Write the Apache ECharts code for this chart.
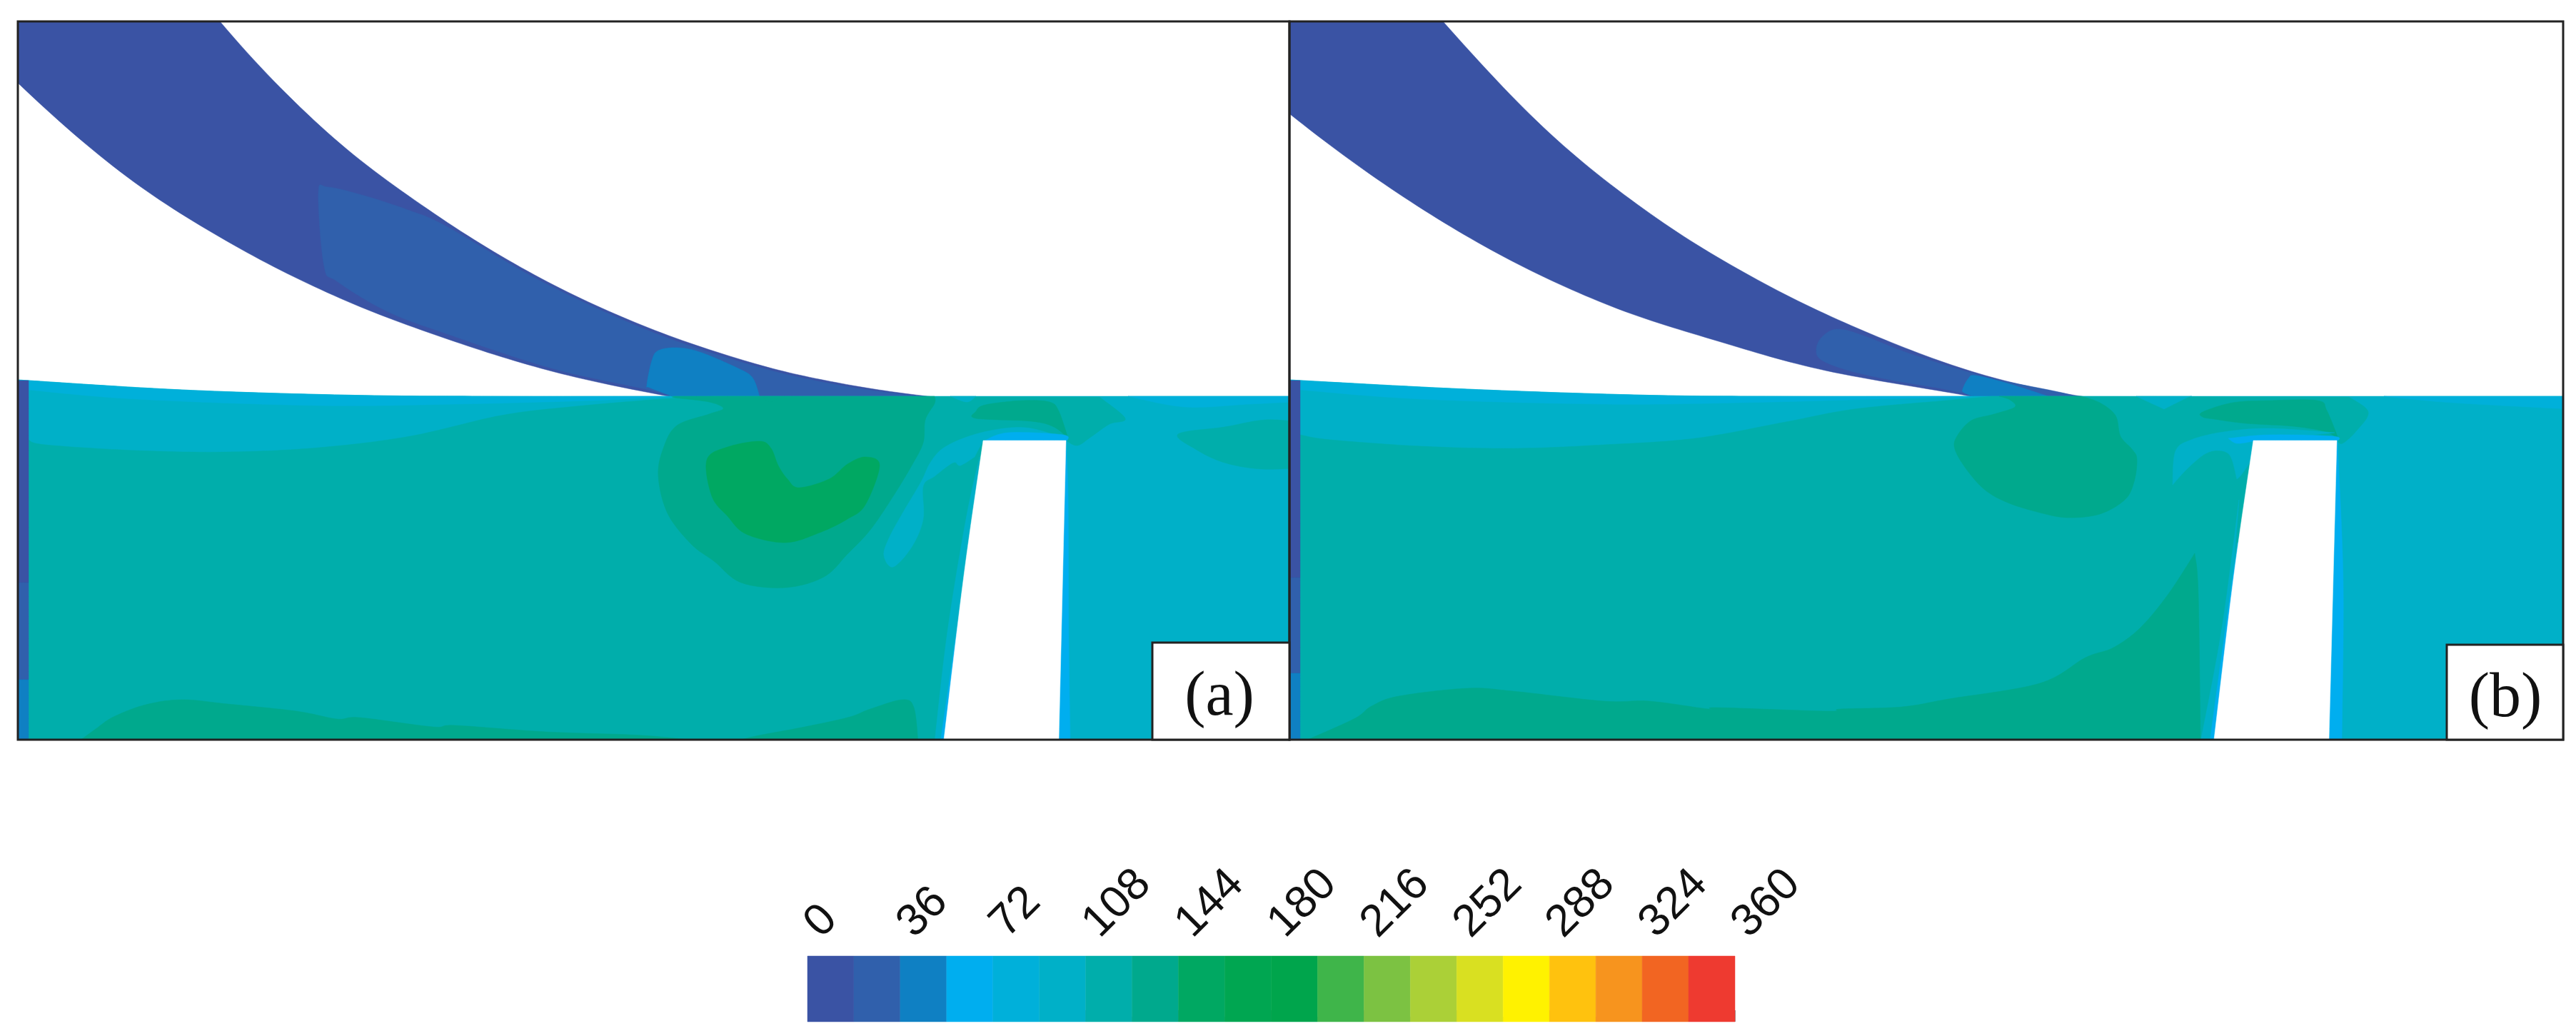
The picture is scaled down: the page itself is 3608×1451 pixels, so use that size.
<!DOCTYPE html>
<html>
<head>
<meta charset="utf-8">
<style>
    html,body{margin:0;padding:0;background:#fff;}
    #chart{width:3608px;height:1451px;}
</style>
</head>
<body>
<div id="chart"></div>
<script src="https://cdn.jsdelivr.net/npm/echarts@6/dist/echarts.min.js"></script>
<script>
// colour bar: one colour per 18 wide band
const bandLevels = [0,18,36,54,72,90,108,126,144,162,180,198,216,234,252,270,288,306,324,342];
const bandColors = ['#3A53A4','#3060AC','#0F80C3','#00AEEF','#00B0DA','#00B0C8','#00AEAB','#00A98D','#00A862','#00A651',
    '#00A54C','#3FB54A','#7CC242','#ABD037','#D9E021','#FFF200','#FFC20E','#F7941E','#F26522','#EE3A30'];

// contour outlines, [x, y], third element 1 = sharp corner
const bladeA = [[158,-170,1],[308,30],[458,185],[608,299],[758,390],[908,459],[1058,509.5],[1178,537],[1299,555],[1420,565,1],
    [1040,570,1],[931,554],[777,521],[627,475],[477,418],[327,343],[177,247],[27,118],[-123,-40,1]];
const bladeA18 = [[446,270],[459,262],[510,274],[574,295],[625,317],[758,394],[908,463],[1058,513],[1178,540],[1285,555,1],[1285,570,1],
    [931,570,1],[931,552],[777,517],[627,468],[542,436],[472,394],[454,373]];
const bladeA36 = [[906,539],[913,505],[922,491],[948,487],[980,493],[1032,515],[1054,529],[1064,556,1],[945,556,1],[910,543]];
const waterA = [[25,532,1],[255,546],[497,553.5],[701,555],[930,555],[1806,555,1],[1806,1036,1],[25,1036,1]];
const topBandA = [[25,532,1],[255,546],[497,553.5],[701,555],[940,555,1],[925,556],[829,561],[638,566],[446,568],[191,559],[40,546],[25,544,1]];
const mainA = [[40,616,1],[64,623],[191,631],[319,633],[446,627],[574,611],[701,582],[797,570],[925,559],[1000,555,1],[1540,556,1],[1576,586],[1554,594],[1528,612],[1509,624],[1493,617,1],[1320,1036,1],[40,1036,1]];
const blobA = [[945,555,1],[945,557],[993,563],[1013,572],[993,580],[948,596],[929,628],[922,667],[935,719],[968,762],[1000,786],[1038,816],[1100,823],[1154,808],[1187,776],[1219,742],[1251,695],[1277,652],[1293,620],[1296,588],[1309,565],[1309,555,1]];
const coreA = [[990,644],[1019,626],[1064,618],[1080,628],[1090,652],[1103,671],[1119,683],[1161,671],[1187,650],[1212,640],[1232,652],[1212,707],[1187,727],[1148,746],[1100,760],[1045,748],[1019,723],[997,695]];
const capA = [[1367,576],[1380,567],[1431,561],[1470,563],[1483,576],[1496,614,1],[1476,598],[1444,590],[1367,586]];
const archA = [[1493,614,1],[1444,600],[1406,600],[1360,610],[1322,627],[1303,648],[1290,675],[1264,719],[1245,754],[1238,778],[1251,794],[1277,766],[1293,727],[1293,681],[1309,667],[1335,648],[1345,652],[1365,640,1],[1377,617,1]];
const archTopA = [[1377,618,1],[1412,606],[1489,609],[1494,618,1]];
const notchA = [[1331,555,1],[1354,563],[1367,555,1]];
const dotA = [[1067,556,1],[1078,563],[1090,558,1]];
const patchA = [[1650,608],[1715,598],[1773,588],[1830,592,1],[1830,655,1],[1767,657],[1715,648],[1676,630]];
const surfaceA = [[1580,555,1],[1660,570],[1750,566],[1830,562,1],[1830,555,1]];
const floorA = [[108,1040,1],[134,1021],[159,1004],[204,987],[255,980],[319,986],[415,996],[472,1007],[504,1005],[606,1018],[638,1016],[765,1025],[900,1030],[1000,1040,1]];
const floorA2 = [[1025,1040,1],[1058,1031],[1122,1019],[1187,1005],[1219,993],[1264,980],[1280,991],[1286,1040,1]];
const wallA = [[1372,640,1],[1353,727],[1327,885],[1309,1040,1],[1330,1040,1]];
const wallA2 = [[1370,690,1],[1345,850],[1317,1040,1],[1330,1040,1]];
const pierA = [[1377,617,1],[1493,617,1],[1483,1036,1],[1322,1036,1],[1350,806]];
const pierSideA = [[1493,617,1],[1483,1040,1],[1499,1040,1],[1497,900],[1496,700]];
const edgeTopA = [[25,533,1],[40,533,1],[40,816,1],[25,816,1]];
const edgeMidA = [[25,816,1],[40,816,1],[40,952,1],[25,952,1]];
const edgeLowA = [[25,952,1],[40,952,1],[40,1036,1],[25,1036,1]];

const bladeB = [[1871,-150,1],[2021,30],[2171,187],[2321,306],[2471,397],[2621,468],[2771,523],[2915,555],[3040,565,1],
    [2830,570,1],[2754,554],[2557,519],[2407,478],[2257,429],[2107,360],[1957,270],[1807,160],[1657,30,1]];
const bladeB18 = [[2544,490],[2551,473],[2572,461],[2607,469],[2677,496],[2782,528],[2900,553],[2930,570,1],[2754,570,1],[2754,552],[2642,531],[2586,518],[2551,504]];
const bladeB36 = [[2749,545],[2757,530],[2767,526],[2812,537],[2872,556,1],[2767,556,1],[2751,550]];
const waterB = [[1806,532,1],[2055,545],[2310,553.5],[2501,555],[2800,555],[3600,555,1],[3600,1036,1],[1806,1036,1]];
const topBandB = [[1806,532,1],[2055,545],[2310,553.5],[2501,555],[2760,555,1],[2750,556],[2629,559],[2438,564],[2246,566],[1991,559],[1821,546],[1806,544,1]];
const mainB = [[1821,609,1],[1864,616],[1991,625],[2119,628],[2246,623],[2374,614],[2501,591],[2597,573],[2725,561],[2790,555,1],[3290,556,1],[3317,577],[3300,604],[3281,621],[3273,617,1],[3100,1036,1],[1821,1036,1]];
const blobB = [[2800,555,1],[2815,560],[2822,570],[2793,580],[2761,589],[2741,611],[2738,629],[2754,657],[2780,686],[2812,704],[2857,718],[2896,725],[2941,720],[2976,700],[2989,675],[2993,643],[2986,629],[2970,611],[2963,582],[2941,564],[2915,555,1]];
const capB = [[3085,584],[3085,577],[3127,564],[3178,561],[3246,561],[3259,575],[3275,614,1],[3255,604],[3211,597],[3146,593],[3101,587]];
const archB = [[3270,606,1],[3178,600],[3114,605],[3069,616],[3047,632],[3043,679,1],[3063,657],[3088,636],[3108,631],[3124,639],[3133,671,1],[3140,664],[3153,643],[3158,617,1]];
const archTopB = [[3121,614,1],[3178,609],[3268,611],[3274,618,1],[3156,618,1],[3133,621]];
const notchB = [[2992,555,1],[3031,573,1],[3063,557],[3070,555,1]];
const surfaceB = [[3339,555,1],[3435,564],[3600,573,1],[3600,555,1]];
const floorB = [[1822,1040,1],[1896,1007],[1921,989],[1959,975],[2055,964],[2119,968],[2246,982],[2310,982],[2393,993],[2406,991],[2559,996],[2578,993],[2664,990],[2729,979],[2857,957],[2921,921],[2960,907],[2998,879],[3037,832],[3074,775,1],[3079,832],[3082,1040,1]];
const wallB = [[3136,700,1],[3112,880],[3082,1040,1],[3110,1040,1]];
const wallB2 = [[3134,760,1],[3110,930],[3095,1040,1],[3110,1040,1]];
const pierB = [[3156,617,1],[3273,617,1],[3262,1036,1],[3101,1036,1],[3129,804]];
const pierSideB = [[3273,618,1],[3262,1040,1],[3280,1040,1],[3282,821],[3275,643]];
const edgeTopB = [[1806,533,1],[1821,533,1],[1821,809,1],[1806,809,1]];
const edgeMidB = [[1806,809,1],[1821,809,1],[1821,943,1],[1806,943,1]];
const edgeLowB = [[1806,943,1],[1821,943,1],[1821,1036,1],[1806,1036,1]];

// [band level, outline] in paint order
const regionsA = [[0,bladeA],[18,bladeA18],[36,bladeA36],[90,waterA],[72,topBandA],[108,mainA],[72,surfaceA],[108,patchA],
    [126,blobA],[144,coreA],[126,capA],[126,floorA],[126,floorA2],[90,archA],[54,archTopA],[90,notchA],[126,dotA],
    [90,wallA],[54,wallA2],[54,pierSideA],[0,edgeTopA],[18,edgeMidA],[36,edgeLowA]];
const regionsB = [[0,bladeB],[18,bladeB18],[36,bladeB36],[90,waterB],[72,topBandB],[108,mainB],[72,surfaceB],
    [126,blobB],[126,capB],[126,floorB],[90,archB],[54,archTopB],[90,notchB],
    [90,wallB],[54,wallB2],[54,pierSideB],[0,edgeTopB],[18,edgeMidB],[36,edgeLowB]];
const piers = [pierA,pierB];

const frames = [[25,30,1806,1036],[1806,30,3590,1036]];
const labelBoxes = [[1614,900,1806,1036],[3427,903,3590,1036]];
const panelLabels = ['(a)','(b)'];
const panelLabelPos = [[1708,978],[3509,980]];

// closed Catmull-Rom outline, corners keep their sharp point
function outline(pts){
    let out = [], n = pts.length;
    for(let i = 0; i < n; i++){
        let p1 = pts[i], p2 = pts[(i + 1) % n];
        let p0 = p1[2] ? p1 : pts[(i - 1 + n) % n];
        let p3 = p2[2] ? p2 : pts[(i + 2) % n];
        for(let s = 0; s < 16; s++){
            let t = s / 16, t2 = t * t, t3 = t2 * t;
            let f = k => 0.5 * (2 * p1[k] + (p2[k] - p0[k]) * t + (2 * p0[k] - 5 * p1[k] + 4 * p2[k] - p3[k]) * t2 + (3 * p1[k] - p0[k] - 3 * p2[k] + p3[k]) * t3);
            out.push([f(0), f(1)]);
        }
    }
    return out;
}
function levelColor(level){
    return bandColors[bandLevels.indexOf(level)];
}
function regionSeries(regions, pier, index){
    let all = regions.map(r => [levelColor(r[0]), r[1]]).concat([['#fff', pier]]);
    return {
        type: 'custom',
        xAxisIndex: index,
        yAxisIndex: index,
        clip: true,
        silent: true,
        data: all.map((r, i) => [i]),
        renderItem(params, api){
            let r = all[api.value(0)];
            return {
                type: 'polygon',
                shape: {points: outline(r[1]).map(p => api.coord(p))},
                style: {fill: r[0], stroke: r[0], lineWidth: 0.5}
            };
        }
    };
}
function panelAxes(x0, x1, index){
    return {
        x: {type: 'value', gridIndex: index, min: x0, max: x1, show: false},
        y: {type: 'value', gridIndex: index, min: 30, max: 1036, inverse: true, show: false}
    };
}

let chart = echarts.init(document.getElementById('chart'));
let axesA = panelAxes(25, 1806, 0), axesB = panelAxes(1806, 3590, 1);
chart.setOption({
    animation: false,
    backgroundColor: '#fff',
    grid: [
        {left: 25, top: 30, width: 1781, height: 1006},
        {left: 1806, top: 30, width: 1784, height: 1006},
        {left: 1131, top: 1339, width: 1299, height: 92}
    ],
    xAxis: [axesA.x, axesB.x, {
        type: 'value',
        gridIndex: 2,
        position: 'top',
        min: 0,
        max: 360,
        interval: 36,
        axisLine: {show: false},
        splitLine: {show: false},
        axisTick: {show: true, length: 16, lineStyle: {color: '#999', width: 1}},
        minorTick: {show: true, splitNumber: 2, length: 7, lineStyle: {color: '#aaa', width: 1}},
        minorSplitLine: {show: false},
        axisLabel: {rotate: 45, margin: 29, padding: [0, 0, 0, 10], fontSize: 63, color: '#111', fontFamily: 'Liberation Sans', showMinLabel: true, showMaxLabel: true, hideOverlap: false}
    }],
    yAxis: [axesA.y, axesB.y, {type: 'value', gridIndex: 2, min: 0, max: 1, show: false}],
    series: [
        regionSeries(regionsA, piers[0], 0),
        regionSeries(regionsB, piers[1], 1),
        {
            // colour bar bands
            type: 'custom',
            xAxisIndex: 2,
            yAxisIndex: 2,
            silent: true,
            data: bandLevels.map(v => [v, v + 18]),
            renderItem(params, api){
                let a = api.coord([api.value(0), 1]), b = api.coord([api.value(1), 0]);
                let color = levelColor(api.value(0));
                return {
                    type: 'rect',
                    shape: {x: a[0], y: a[1], width: b[0] - a[0], height: b[1] - a[1]},
                    style: {fill: color, stroke: color, lineWidth: 0.5}
                };
            }
        },
        {
            // panel frames and the (a) (b) boxes on top of everything
            type: 'custom',
            xAxisIndex: 0,
            yAxisIndex: 0,
            clip: false,
            silent: true,
            z: 10,
            data: frames.map((f, i) => [i]).concat(labelBoxes.map((f, i) => [i + frames.length])),
            renderItem(params, api){
                let i = api.value(0), isBox = i >= frames.length;
                let f = isBox ? labelBoxes[i - frames.length] : frames[i];
                let a = api.coord([f[0], f[1]]), b = api.coord([f[2], f[3]]);
                let rect = {
                    type: 'rect',
                    shape: {x: a[0], y: a[1], width: b[0] - a[0], height: b[1] - a[1]},
                    style: {fill: isBox ? '#fff' : 'none', stroke: '#222', lineWidth: 3}
                };
                if(!isBox) return rect;
                let pos = api.coord(panelLabelPos[i - frames.length]);
                return {
                    type: 'group',
                    children: [rect, {
                        type: 'text',
                        x: pos[0],
                        y: pos[1],
                        style: {text: panelLabels[i - frames.length], font: '88px "Liberation Serif"', fill: '#111', textAlign: 'center', textVerticalAlign: 'middle'}
                    }]
                };
            }
        }
    ]
});
</script>
</body>
</html>
